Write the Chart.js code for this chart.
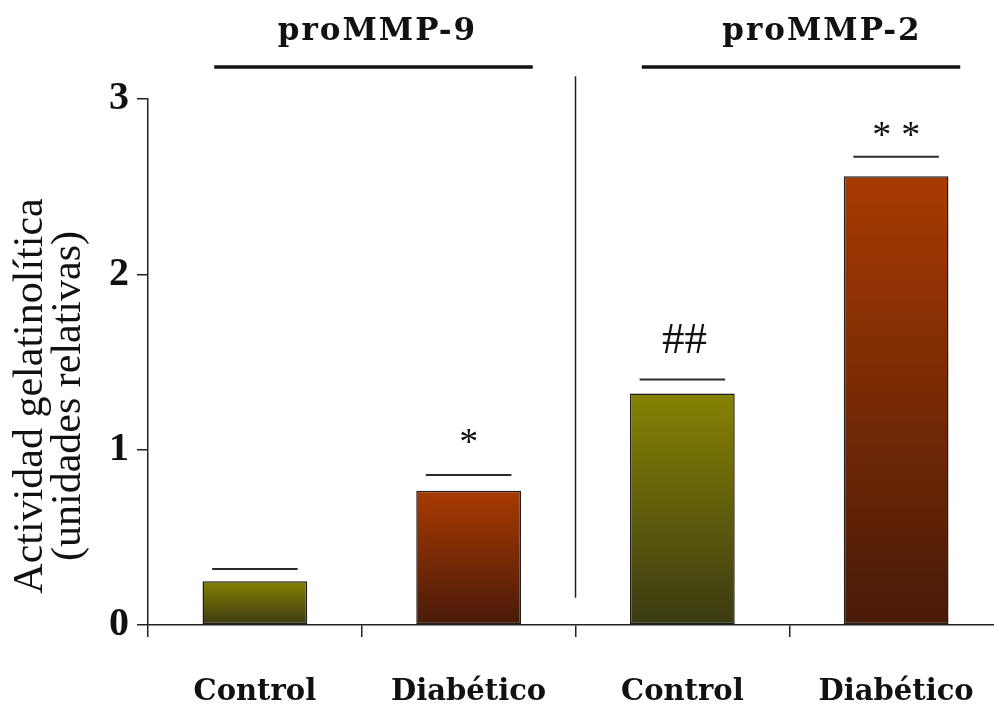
<!DOCTYPE html>
<html>
<head>
<meta charset="utf-8">
<script src="https://cdn.jsdelivr.net/npm/chart.js@4/dist/chart.umd.min.js"></script>
<style>
  html, body { margin: 0; padding: 0; background: #fff; overflow: hidden; }
  #wrap { width: 1010px; height: 709px; position: relative; }
</style>
</head>
<body>
<div id="wrap"><canvas id="c"></canvas></div>
<script>
// Gelatinolytic activity (relative units) for each group
const categories = ['Control', 'Diabético', 'Control', 'Diabético'];
const activity = [0.25, 0.765, 1.32, 2.56];
const errorCaps = [0.32, 0.855, 1.40, 2.67];
const marks = ['', '*', '##', '**'];
const groupNames = ['proMMP-9', 'proMMP-2'];
const yTicks = [0, 1, 2, 3];
const yTitle = ['Actividad gelatinolítica', '(unidades relativas)'];

// top / bottom colours of the bar gradients
const palette = [
  ['#878204', '#3a3a12'],
  ['#a83a02', '#481a08'],
  ['#878204', '#3a3a12'],
  ['#a83a02', '#481a08']
];

const SERIF = '"Liberation Serif", "Times New Roman", serif';
const SLAB = '"DejaVu Serif", serif';

function barFill(ctx) {
  const chart = ctx.chart;
  const i = ctx.dataIndex;
  const ys = chart.scales && chart.scales.y;
  if (!chart.chartArea || !ys) return palette[i][0];
  const top = ys.getPixelForValue(activity[i]);
  const bottom = ys.getPixelForValue(0);
  const g = chart.ctx.createLinearGradient(0, top, 0, bottom);
  g.addColorStop(0, palette[i][0]);
  g.addColorStop(1, palette[i][1]);
  return g;
}

const overlay = {
  id: 'overlay',
  afterDatasetsDraw(chart) {
    const ctx = chart.ctx;
    const x = chart.scales.x, y = chart.scales.y;
    const step = x.getPixelForValue(1) - x.getPixelForValue(0);
    ctx.save();

    // error caps and significance marks
    errorCaps.forEach((v, i) => {
      const cx = x.getPixelForValue(i);
      const py = y.getPixelForValue(v);
      ctx.strokeStyle = '#2a2a2a';
      ctx.lineWidth = 2;
      ctx.beginPath();
      ctx.moveTo(cx - step * 0.2, py);
      ctx.lineTo(cx + step * 0.2, py);
      ctx.stroke();
      if (marks[i]) {
        ctx.fillStyle = '#111';
        ctx.textAlign = 'center';
        ctx.textBaseline = 'alphabetic';
        if (marks[i] === '**') {
          ctx.font = '38px ' + SERIF;
          ctx.letterSpacing = '10px';
          ctx.fillText(marks[i], cx + 5, py - 10);
          ctx.letterSpacing = '0px';
        } else if (marks[i] === '*') {
          ctx.font = '38px ' + SERIF;
          ctx.fillText(marks[i], cx, py - 21);
        } else {
          ctx.font = '45px ' + SERIF;
          ctx.fillText(marks[i], cx + 2, py - 27);
        }
      }
    });

    // vertical divider between the two enzymes
    const dx = (x.getPixelForValue(1) + x.getPixelForValue(2)) / 2;
    ctx.strokeStyle = '#222';
    ctx.lineWidth = 1.5;
    ctx.beginPath();
    ctx.moveTo(dx, y.getPixelForValue(3.13));
    ctx.lineTo(dx, y.getPixelForValue(0.155));
    ctx.stroke();

    // group headers
    groupNames.forEach((name, g) => {
      const a = x.getPixelForValue(g * 2) - step * 0.19;
      const b = x.getPixelForValue(g * 2 + 1) + step * 0.30;
      const ly = y.getPixelForValue(3.183);
      ctx.strokeStyle = '#111';
      ctx.lineWidth = 3.5;
      ctx.beginPath();
      ctx.moveTo(a, ly);
      ctx.lineTo(b, ly);
      ctx.stroke();
      ctx.fillStyle = '#111';
      ctx.font = 'bold 31px ' + SLAB;
      ctx.letterSpacing = '2px';
      ctx.textAlign = 'center';
      ctx.textBaseline = 'alphabetic';
      const tx = g === 0 ? (a + b) / 2 + 4 : (a + b) / 2 + 21;
      ctx.fillText(name, tx, 40);
      ctx.letterSpacing = '0px';
    });

    // y axis title
    const cy = (y.getPixelForValue(0) + y.getPixelForValue(3)) / 2 + 34;
    ctx.translate(31, cy);
    ctx.rotate(-Math.PI / 2);
    ctx.fillStyle = '#111';
    ctx.font = '42px ' + SERIF;
    ctx.textAlign = 'center';
    ctx.textBaseline = 'middle';
    ctx.fillText(yTitle[0], 0, 0);
    ctx.fillText(yTitle[1], 0, 38);
    ctx.restore();
  }
};

new Chart(document.getElementById('c'), {
  type: 'bar',
  data: {
    labels: categories,
    datasets: [{
      data: activity,
      backgroundColor: barFill,
      borderColor: '#1e1e1e',
      borderWidth: 1.5,
      borderSkipped: false,
      barPercentage: 0.49,
      categoryPercentage: 1
    }]
  },
  options: {
    responsive: true,
    maintainAspectRatio: false,
    animation: false,
    layout: { padding: { top: 99, right: 7, left: 0, bottom: 0 } },
    plugins: { legend: { display: false }, tooltip: { enabled: false } },
    scales: {
      x: {
        offset: true,
        grid: { display: true, drawOnChartArea: false, offset: true, tickLength: 12, color: '#222', lineWidth: 1.5 },
        border: { display: true, color: '#222', width: 1.5 },
        ticks: { color: '#111', font: { family: SLAB, weight: 'bold', size: 29 }, padding: 38 },
        afterFit(s) { s.height = 84; s.paddingLeft = 0; s.paddingRight = 0; }
      },
      y: {
        min: 0,
        max: 3,
        afterBuildTicks(s) { s.ticks = yTicks.map(v => ({ value: v })); },
        grid: { display: true, drawOnChartArea: false, tickLength: 11, color: '#222', lineWidth: 1.5 },
        border: { display: true, color: '#222', width: 1.5 },
        ticks: { color: '#111', font: { family: SERIF, weight: 'bold', size: 40 }, padding: 8 },
        afterFit(s) { s.width = 148; s.paddingTop = 0; s.paddingBottom = 0; }
      }
    }
  },
  plugins: [overlay]
});
</script>
</body>
</html>
